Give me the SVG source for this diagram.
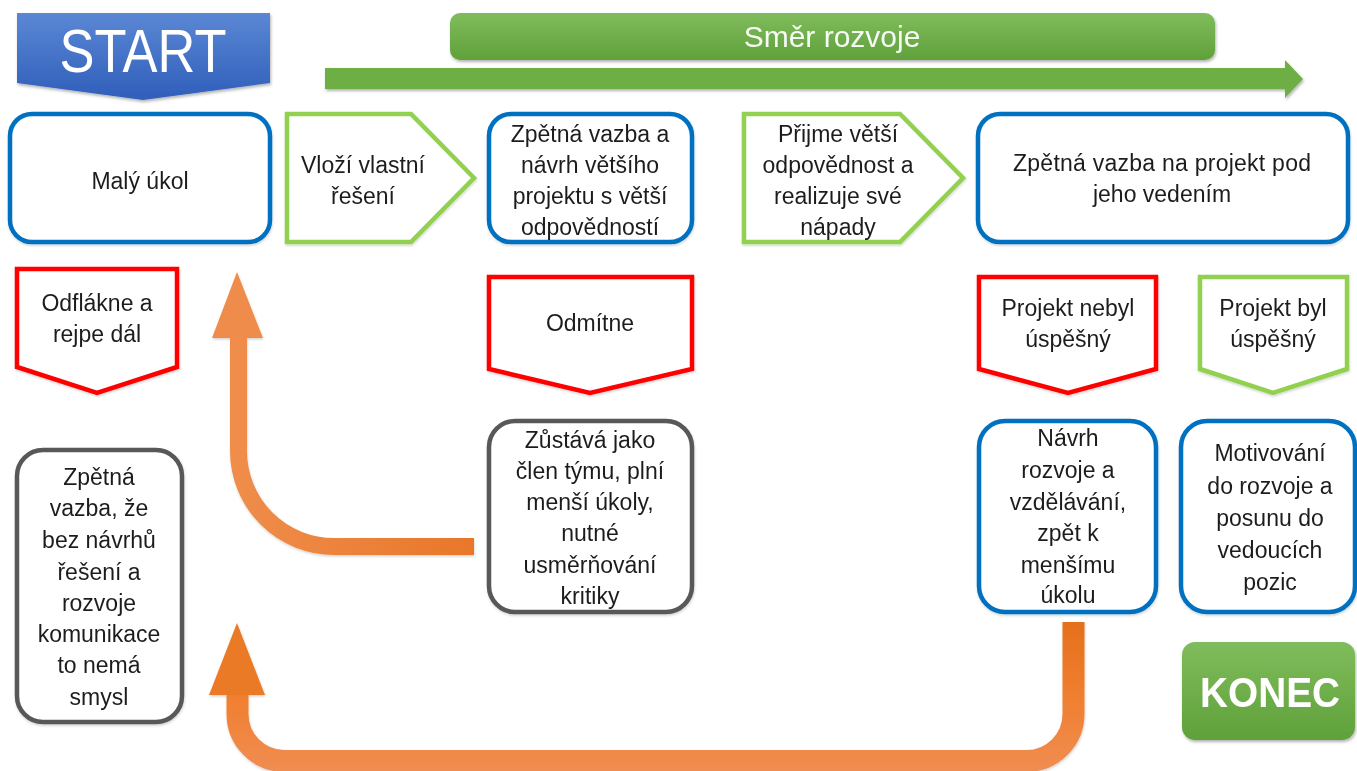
<svg xmlns="http://www.w3.org/2000/svg" width="1357" height="771" viewBox="0 0 1357 771">
<defs>
<linearGradient id="gBlue" x1="0" y1="0" x2="0" y2="1">
<stop offset="0" stop-color="#5B87D4"/><stop offset="1" stop-color="#2F5EBA"/>
</linearGradient>
<linearGradient id="gGreen" x1="0" y1="0" x2="0" y2="1">
<stop offset="0" stop-color="#80BC5C"/><stop offset="1" stop-color="#5FA13A"/>
</linearGradient>
<linearGradient id="gArrow1" gradientUnits="userSpaceOnUse" x1="212" y1="0" x2="474" y2="0">
<stop offset="0" stop-color="#F08F4E"/><stop offset="1" stop-color="#E8772A"/>
</linearGradient>
<linearGradient id="gArrow2" gradientUnits="userSpaceOnUse" x1="0" y1="622" x2="0" y2="772">
<stop offset="0" stop-color="#E4701C"/><stop offset="0.5" stop-color="#F07F30"/><stop offset="1" stop-color="#F08D52"/>
</linearGradient>
<filter id="sh" x="-10%" y="-10%" width="120%" height="130%">
<feDropShadow dx="1" dy="2" stdDeviation="1.5" flood-color="#000" flood-opacity="0.3"/>
</filter>
<filter id="sh2" x="-10%" y="-10%" width="120%" height="130%">
<feDropShadow dx="0.5" dy="1.5" stdDeviation="1.2" flood-color="#000" flood-opacity="0.18"/>
</filter>
</defs>
<style>
.t{font-family:"Liberation Sans",Arial,sans-serif;font-size:23px;fill:#1e1e1e;text-anchor:middle}
.bl{fill:#fff;stroke:#0070C0;stroke-width:4.5}
.gr{fill:#fff;stroke:#595959;stroke-width:4.5}
.rd{fill:#fff;stroke:#FF0000;stroke-width:4.5}
.gn{fill:#fff;stroke:#92D050;stroke-width:4.5}
.w{font-family:"Liberation Sans",Arial,sans-serif;fill:#fff;text-anchor:middle}
</style>
<rect width="1357" height="771" fill="#fff"/>

<g id="start" filter="url(#sh)">
<polygon points="17,13 270,13 270,83 143,100 17,83" fill="url(#gBlue)"/>
<text class="w" x="143" y="72" font-size="62" textLength="167" lengthAdjust="spacingAndGlyphs">START</text>
</g>

<g id="smer-rozvoje" filter="url(#sh)">
<rect x="450" y="13" width="765" height="47" rx="10" fill="url(#gGreen)"/>
<text class="w" x="832" y="47" font-size="30" fill-opacity="0.95">Směr rozvoje</text>
</g>

<g id="smer-arrow" filter="url(#sh)">
<polygon points="325,68 1285,68 1285,60 1303,79 1285,98 1285,89 325,89" fill="#6DAF45"/>
</g>

<g id="connectors">
<g filter="url(#sh2)">
<path d="M474,546.5 H334 A95.5,95.5 0 0 1 238.5,451 V335" fill="none" stroke="url(#gArrow1)" stroke-width="17"/>
<polygon points="212,338 237,272 263,338" fill="#EF8C4B"/>
</g>
<g filter="url(#sh2)">
<path d="M1073.5,622 V714 A47,47 0 0 1 1026.5,761 H284 A47,47 0 0 1 237.5,714 V692" fill="none" stroke="url(#gArrow2)" stroke-width="22"/>
<polygon points="209,695 237,623 265,695" fill="#EB7A28"/>
</g>
</g>

<g id="maly-ukol" filter="url(#sh2)">
<rect class="bl" x="10" y="114" width="260" height="128" rx="22"/>
<text class="t" x="140" y="189">Malý úkol</text>
</g>

<g id="vlozi" filter="url(#sh2)">
<polygon class="gn" points="287,114 411,114 474,178 411,242 287,242"/>
<text class="t" x="363" y="173">Vloží vlastní</text>
<text class="t" x="363" y="204">řešení</text>
</g>

<g id="zpetna-vazba-navrh" filter="url(#sh2)">
<rect class="bl" x="489" y="114" width="203" height="128" rx="22"/>
<text class="t" x="590" y="142">Zpětná vazba a</text>
<text class="t" x="590" y="173">návrh většího</text>
<text class="t" x="590" y="204">projektu s větší</text>
<text class="t" x="590" y="235">odpovědností</text>
</g>

<g id="prijme" filter="url(#sh2)">
<polygon class="gn" points="744,114 900,114 963,178 900,242 744,242"/>
<text class="t" x="838" y="142">Přijme větší</text>
<text class="t" x="838" y="173">odpovědnost a</text>
<text class="t" x="838" y="204">realizuje své</text>
<text class="t" x="838" y="235">nápady</text>
</g>

<g id="zpetna-vazba-projekt" filter="url(#sh2)">
<rect class="bl" x="978" y="114" width="370" height="128" rx="22"/>
<text class="t" x="1162" y="171" textLength="298">Zpětná vazba na projekt pod</text>
<text class="t" x="1162" y="202">jeho vedením</text>
</g>

<g id="odflakne" filter="url(#sh2)">
<polygon class="rd" points="17,269 177,269 177,367 97,393 17,367"/>
<text class="t" x="97" y="311">Odflákne a</text>
<text class="t" x="97" y="342">rejpe dál</text>
</g>

<g id="odmitne" filter="url(#sh2)">
<polygon class="rd" points="489,277 692,277 692,369 590,393 489,369"/>
<text class="t" x="590" y="331">Odmítne</text>
</g>

<g id="projekt-nebyl" filter="url(#sh2)">
<polygon class="rd" points="979,277 1156,277 1156,369 1068,393 979,369"/>
<text class="t" x="1068" y="316">Projekt nebyl</text>
<text class="t" x="1068" y="347">úspěšný</text>
</g>

<g id="projekt-byl" filter="url(#sh2)">
<polygon class="gn" points="1200,277 1347,277 1347,369 1273,393 1200,369"/>
<text class="t" x="1273" y="316">Projekt byl</text>
<text class="t" x="1273" y="347">úspěšný</text>
</g>

<g id="zpetna-vazba-bez" filter="url(#sh2)">
<rect class="gr" x="17" y="450" width="165" height="272" rx="26"/>
<text class="t" x="99" y="485">Zpětná</text>
<text class="t" x="99" y="516">vazba, že</text>
<text class="t" x="99" y="548">bez návrhů</text>
<text class="t" x="99" y="580">řešení a</text>
<text class="t" x="99" y="611">rozvoje</text>
<text class="t" x="99" y="642">komunikace</text>
<text class="t" x="99" y="673">to nemá</text>
<text class="t" x="99" y="705">smysl</text>
</g>

<g id="zustava" filter="url(#sh2)">
<rect class="gr" x="489" y="421" width="203" height="191" rx="26"/>
<text class="t" x="590" y="448">Zůstává jako</text>
<text class="t" x="590" y="479">člen týmu, plní</text>
<text class="t" x="590" y="510">menší úkoly,</text>
<text class="t" x="590" y="541">nutné</text>
<text class="t" x="590" y="573">usměrňování</text>
<text class="t" x="590" y="604">kritiky</text>
</g>

<g id="navrh-rozvoje" filter="url(#sh2)">
<rect class="bl" x="979" y="421" width="177" height="191" rx="26"/>
<text class="t" x="1068" y="446">Návrh</text>
<text class="t" x="1068" y="478">rozvoje a</text>
<text class="t" x="1068" y="510">vzdělávání,</text>
<text class="t" x="1068" y="541">zpět k</text>
<text class="t" x="1068" y="573">menšímu</text>
<text class="t" x="1068" y="603">úkolu</text>
</g>

<g id="motivovani" filter="url(#sh2)">
<rect class="bl" x="1181" y="421" width="174" height="191" rx="26"/>
<text class="t" x="1270" y="461">Motivování</text>
<text class="t" x="1270" y="494">do rozvoje a</text>
<text class="t" x="1270" y="526">posunu do</text>
<text class="t" x="1270" y="558">vedoucích</text>
<text class="t" x="1270" y="590">pozic</text>
</g>

<g id="konec" filter="url(#sh)">
<rect x="1182" y="642" width="173" height="98" rx="13" fill="url(#gGreen)"/>
<text class="w" x="1270" y="707" font-size="42" font-weight="bold" textLength="140" lengthAdjust="spacingAndGlyphs">KONEC</text>
</g>
</svg>
